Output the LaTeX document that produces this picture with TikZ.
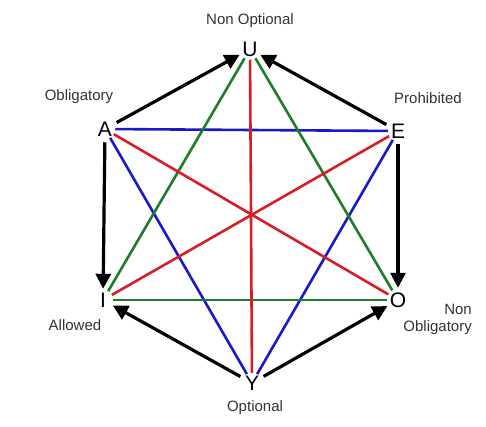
\documentclass[tikz,border=0pt]{standalone}
\usepackage{fontspec}
\setmainfont{Liberation Sans}
\usetikzlibrary{arrows.meta}
\definecolor{cblue}{RGB}{25,25,200}
\definecolor{cred}{RGB}{215,30,40}
\definecolor{cgreen}{RGB}{30,125,40}
\begin{document}
\begin{tikzpicture}[x=1pt,y=-1pt,
  vtx/.style={circle,inner sep=0pt,minimum size=20pt,font=\fontsize{21}{23}\selectfont},
  lbl/.style={font=\fontsize{15}{17}\selectfont,text=black!80,inner sep=0pt},
  cl/.style={line width=2.6pt},
  arr/.style={line width=3.2pt,-{Triangle[length=15pt,width=15pt]},shorten <=3pt,shorten >=1pt}]
\useasboundingbox[fill=white] (0,0) rectangle (486,426);
\node[vtx] (U) at (250,49) {U};
\node[vtx] (A) at (105,129) {A};
\node[vtx] (E) at (398,131) {E};
\node[vtx] (I) at (103,300) {I};
\node[vtx] (O) at (398,300) {O};
\node[vtx] (Y) at (252,383) {Y};
\node[lbl] (nU) at (250,21) {Non Optional};
\node[lbl] (nA) at (79,97) {Obligatory};
\node[lbl] (nE) at (428,98) {Prohibited};
\node[lbl] (nI) at (75,325) {Allowed};
\node[lbl,align=right,anchor=east] (nO) at (472,319) {Non\\Obligatory};
\node[lbl] (nY) at (255,408) {Optional};
% blue triangle
\draw[cl,cblue] (A) -- (E);
\draw[cl,cblue] (A) -- (Y);
\draw[cl,cblue] (E) -- (Y);
% green triangle
\draw[cl,cgreen] (U) -- (I);
\draw[cl,cgreen] (U) -- (O);
\draw[cl,cgreen] (I) -- (O);
% red diagonals
\draw[cl,cred] (A) -- (O);
\draw[cl,cred] (E) -- (I);
\draw[cl,cred] (U) -- (Y);
% black arrows
\draw[arr] (A) -- (U);
\draw[arr] (E) -- (U);
\draw[arr] (A) -- (I);
\draw[arr] (E) -- (O);
\draw[arr] (Y) -- (I);
\draw[arr] (Y) -- (O);
\end{tikzpicture}
\end{document}
